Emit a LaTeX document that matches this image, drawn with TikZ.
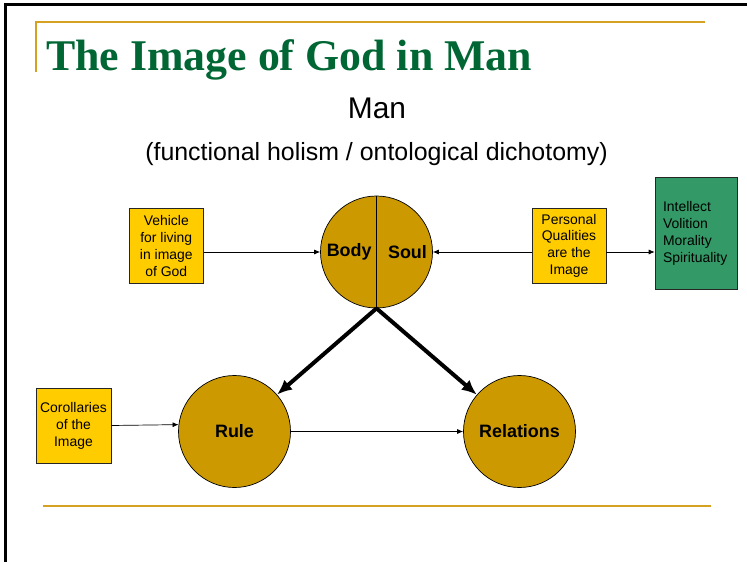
\documentclass[tikz,border=0pt]{standalone}
\usepackage{fontspec}
\setmainfont{Liberation Sans}
\newfontfamily\titlefont{Liberation Serif}
\usetikzlibrary{arrows.meta}
\definecolor{circgold}{HTML}{CC9900}
\definecolor{boxyellow}{HTML}{FFCC00}
\definecolor{boxgreen}{HTML}{339966}
\definecolor{titlegreen}{HTML}{006633}
\definecolor{ruleline}{HTML}{D4A220}
\begin{document}
\begin{tikzpicture}[x=1bp,y=-1bp,
  ybox/.style={rectangle, draw=black!85, line width=0.6bp, fill=boxyellow, align=center,
    inner sep=0pt, font=\fontsize{14}{17}\selectfont},
  gbox/.style={rectangle, draw=black!85, line width=0.6bp, fill=boxgreen, align=left,
    inner xsep=8bp, inner ysep=0pt, text width=66bp, font=\fontsize{14}{17}\selectfont},
  circnode/.style={circle, draw=black, line width=0.7bp, fill=circgold, minimum size=112bp,
    inner sep=0pt, font=\fontsize{18}{18}\selectfont\bfseries},
  lbl/.style={inner sep=0pt, font=\fontsize{18}{18}\selectfont\bfseries},
  thinarr/.style={-{Latex[length=6bp,width=5bp]}, line width=0.7bp},
  thickarr/.style={-{Latex[length=15bp,width=13bp]}, line width=4bp}]
\useasboundingbox (0,0) rectangle (747,562);
% frame and rules
\draw[black, line width=3bp] (5.5,562) -- (5.5,4.5) -- (747,4.5);
\draw[ruleline, line width=2bp] (36,72) -- (36,22) -- (705,22);
\draw[ruleline, line width=2bp] (43,506) -- (711,506);
% titles
\node[anchor=base west, inner sep=0pt, text=titlegreen,
  font=\titlefont\bfseries\fontsize{44}{44}\selectfont] (title) at (46,71) {The Image of God in Man};
\node[anchor=base, inner sep=0pt, font=\fontsize{30}{30}\selectfont] (man) at (377,119) {Man};
\node[anchor=base, inner sep=0pt, font=\fontsize{25}{25}\selectfont] (sub) at (376.5,160.5)
  {(functional holism / ontological dichotomy)};
% nodes
\node[ybox, minimum width=74bp, minimum height=75bp] (veh) at (166.3,245.8)
  {Vehicle\\for living\\in image\\of God};
\node[ybox, minimum width=74.3bp, minimum height=75bp] (per) at (569,245.8)
  {Personal\\Qualities\\are the\\Image};
\node[gbox, minimum height=112bp] (grn) at (696,233.3)
  {Intellect\\Volition\\Morality\\Spirituality};
\node[circnode] (bs) at (376.5,252) {};
\draw[line width=0.7bp] (bs.north) -- (bs.south);
\node[lbl] (body) at (349.2,252) {Body};
\node[lbl] (soul) at (407.5,252) {Soul};
\node[circnode] (rule) at (234.5,431.5) {Rule};
\node[circnode] (rel) at (519.5,431.5) {Relations};
\node[ybox, minimum width=75bp, minimum height=75bp] (cor) at (73.5,425.5)
  {Corollaries\\of the\\Image};
% connectors
\draw[thinarr] (veh.east |- bs.center) -- (bs.west);
\draw[thinarr] (per.west |- bs.center) -- (bs.east);
\draw[thinarr] (per.east |- bs.center) -- (grn.west |- bs.center);
\draw[thinarr] (cor.east) -- (rule.173.3);
\draw[thinarr] (rule.east) -- (rel.west);
\draw[thickarr] (bs.south) -- (rule);
\draw[thickarr] (bs.south) -- (rel);
\end{tikzpicture}
\end{document}
